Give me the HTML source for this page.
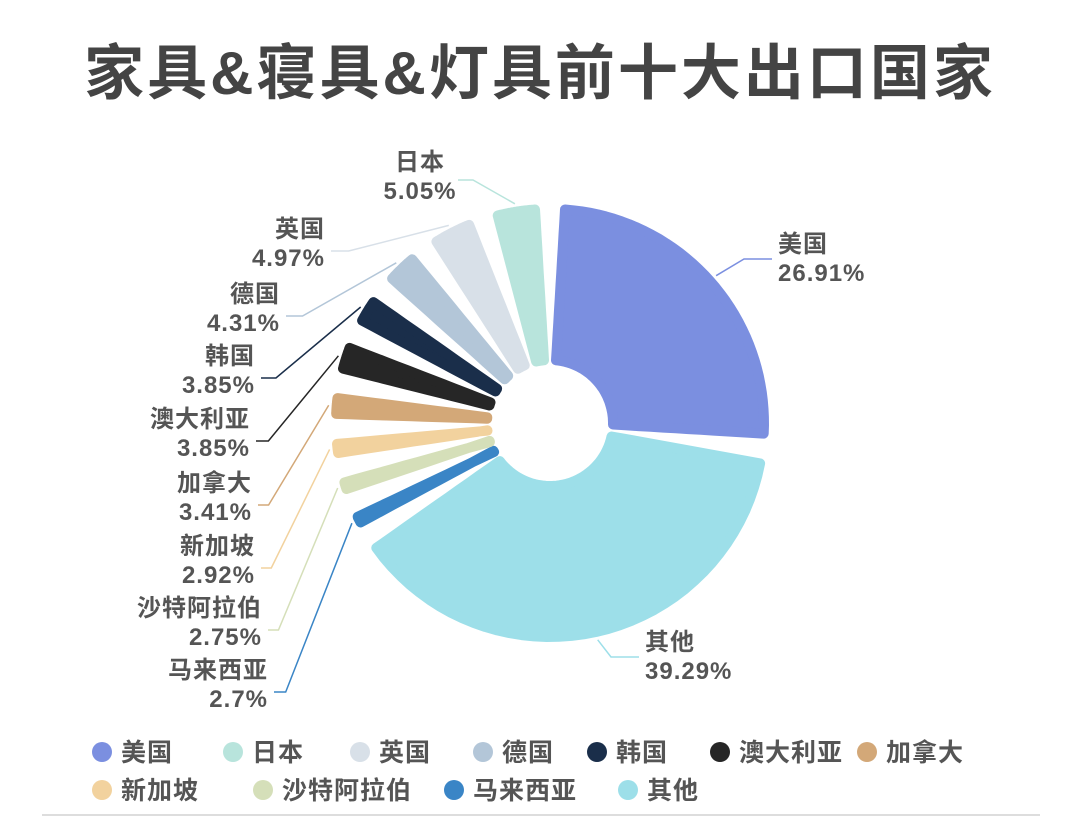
<!DOCTYPE html>
<html><head><meta charset="utf-8">
<style>
body{margin:0;background:#fff;width:1080px;height:818px;overflow:hidden;font-family:"Liberation Sans","Noto Sans CJK SC",sans-serif;}
svg text{font-family:"Liberation Sans","Noto Sans CJK SC",sans-serif;font-weight:bold;fill:#555;}
</style></head>
<body>
<svg id="chart" width="1080" height="818" viewBox="0 0 1080 818">
<text x="540" y="94" text-anchor="middle" font-size="60" letter-spacing="3" style="fill:#444">家具&amp;寝具&amp;灯具前十大出口国家</text>
<g id="slices"></g><g id="labels"></g><g id="legend"></g>
<line x1="42" y1="815" x2="1040" y2="815" stroke="#ddd" stroke-width="2"/>
</svg>
<script>
const categories=["美国","其他","马来西亚","沙特阿拉伯","新加坡","加拿大","澳大利亚","韩国","德国","英国","日本"];
const values=[26.91,39.29,2.7,2.75,2.92,3.41,3.85,3.85,4.31,4.97,5.05];
const colors=["#7b8fe0","#9ddfe9","#3a85c6","#d5dfb9","#f2d29e","#d3a878","#262626","#1a2e4a","#b3c6d8","#d8e0e8","#b8e4dc"];
const legendOrder=["美国","日本","英国","德国","韩国","澳大利亚","加拿大","新加坡","沙特阿拉伯","马来西亚","其他"];
const cx=550,cy=423,R=214,r0=63;
const NS="http://www.w3.org/2000/svg";
function pt(a,r){return [cx+r*Math.sin(a),cy-r*Math.cos(a)];}
function h(r){return 6+(r-r0)*(9/(R-r0));}
const total=values.reduce((s,v)=>s+v,0);
const gS=document.getElementById('slices'),gL=document.getElementById('labels'),gG=document.getElementById('legend');
const labelPos={"美国":[778,252,"start"],"其他":[645,650,"start"],"日本":[420,170,"middle"],"英国":[325,237,"end"],"德国":[280,302,"end"],"韩国":[255,364,"end"],"澳大利亚":[250,427,"end"],"加拿大":[252,491,"end"],"新加坡":[255,554,"end"],"沙特阿拉伯":[262,616,"end"],"马来西亚":[268,678,"end"]};
let acc=0;
values.forEach((v,i)=>{
  const a0=acc/total*2*Math.PI;acc+=v;const a1=acc/total*2*Math.PI;
  const pts=[];const N=12;
  for(let k=0;k<=N;k++){const r=r0+(R-r0)*k/N;pts.push(pt(a0+Math.asin(h(r)/r),r));}
  const ao0=a0+Math.asin(h(R)/R),ao1=a1-Math.asin(h(R)/R);
  for(let k=1;k<40;k++){pts.push(pt(ao0+(ao1-ao0)*k/40,R));}
  for(let k=N;k>=0;k--){const r=r0+(R-r0)*k/N;pts.push(pt(a1-Math.asin(h(r)/r),r));}
  const ai0=a0+Math.asin(h(r0)/r0),ai1=a1-Math.asin(h(r0)/r0);
  for(let k=39;k>0;k--){pts.push(pt(ai0+(ai1-ai0)*k/40,r0));}
  const p=document.createElementNS(NS,'polygon');
  
  
  p.setAttribute('points',pts.map(q=>q[0].toFixed(1)+','+q[1].toFixed(1)).join(' '));
  p.setAttribute('fill',colors[i]);p.setAttribute('stroke',colors[i]);p.setAttribute('stroke-width','10');p.setAttribute('stroke-linejoin','round');
  gS.appendChild(p);
  const lp=labelPos[categories[i]];const am=(a0+a1)/2;const s=pt(am,R+8);
  let ex,ey;
  if(lp[2]==="start"){ex=lp[0]-6;ey=lp[1]+7;}else if(lp[2]==="end"){ex=lp[0]+6;ey=lp[1]+14;}else{ex=lp[0]+38;ey=lp[1]+10;}
  const mx=lp[2]==="start"?ex-28:(lp[2]==="end"?ex+(s[0]-ex)*0.15:ex+15);
  const ln=document.createElementNS(NS,'polyline');
  
  
  ln.setAttribute('points',`${ex},${ey} ${mx},${ey} ${s[0].toFixed(1)},${s[1].toFixed(1)}`);
  ln.setAttribute('fill','none');ln.setAttribute('stroke',colors[i]);ln.setAttribute('stroke-width','1.5');
  gL.appendChild(ln);
  [categories[i],v+'%'].forEach((t,j)=>{
    const tx=document.createElementNS(NS,'text');
    
    
    tx.setAttribute('x',lp[0]);tx.setAttribute('y',lp[1]+j*29);tx.setAttribute('text-anchor',lp[2]);tx.setAttribute('font-size','24');tx.setAttribute('letter-spacing','1');
    tx.textContent=t;gL.appendChild(tx);
  });
});
const legX=[[97,228,355,478,592,715,862],[97,258,449,623]];
legendOrder.forEach((c,k)=>{
  const row=k<7?0:1,col=row?k-7:k;const x=legX[row][col],y=row?790:752;
  const ci=document.createElementNS(NS,'circle');
  
  
  ci.setAttribute('cx',x+5);ci.setAttribute('cy',y);ci.setAttribute('r','10');ci.setAttribute('fill',colors[categories.indexOf(c)]);
  gG.appendChild(ci);
  const t=document.createElementNS(NS,'text');
  
  
  t.setAttribute('x',x+24);t.setAttribute('y',y+9);t.setAttribute('font-size','25');t.setAttribute('letter-spacing','1');t.textContent=c;
  gG.appendChild(t);
});
</script>
</body></html>
